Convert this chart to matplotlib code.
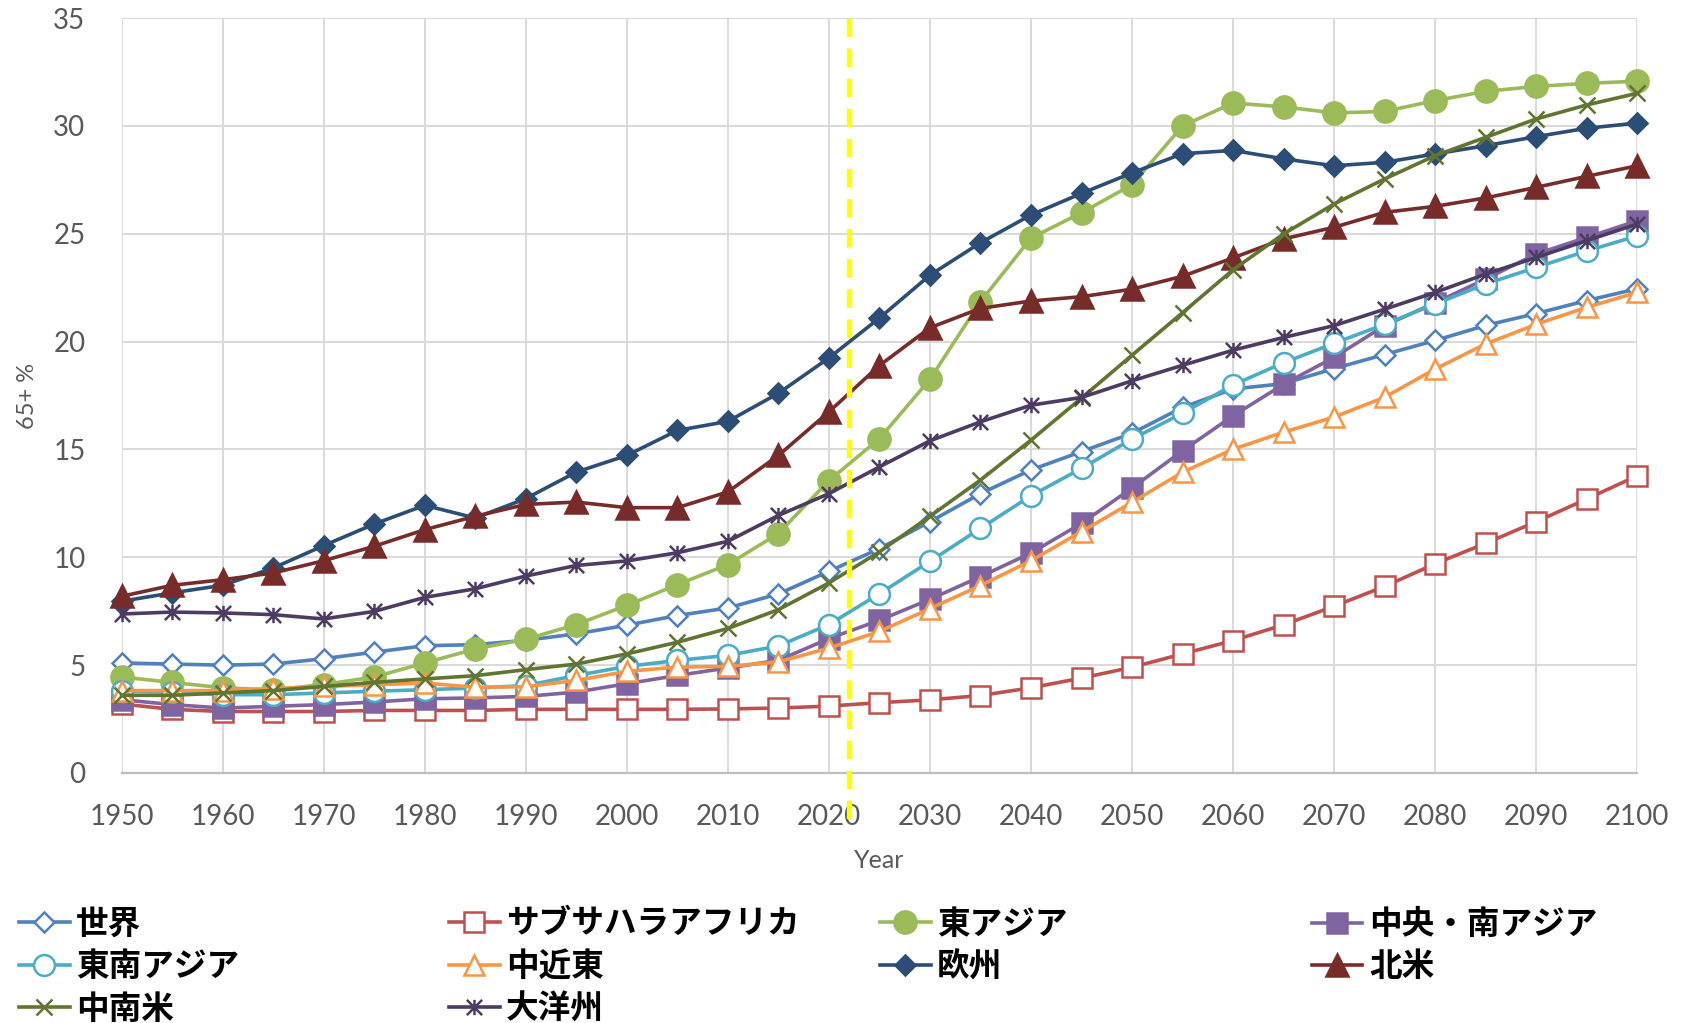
import matplotlib
matplotlib.use('Agg')
import matplotlib.pyplot as plt
from matplotlib.path import Path

plt.rcParams['font.family'] = ['Lato', 'Noto Sans CJK JP', 'DejaVu Sans']

years = list(range(1950, 2101, 5))

world = [5.1, 5.05, 5.0, 5.05, 5.3, 5.6, 5.9, 5.95, 6.15, 6.45, 6.85, 7.3, 7.65, 8.3, 9.35, 10.4,
         11.65, 12.95, 14.05, 14.9, 15.75, 16.95, 17.8, 18.05, 18.75, 19.4, 20.05, 20.75, 21.3, 21.9, 22.45]
ssa = [3.2, 2.95, 2.85, 2.85, 2.85, 2.9, 2.9, 2.9, 2.95, 2.95, 2.95, 2.95, 2.97, 3.01, 3.1, 3.26,
       3.39, 3.59, 3.95, 4.4, 4.9, 5.52, 6.14, 6.87, 7.73, 8.65, 9.7, 10.65, 11.65, 12.7, 13.78]
east_asia = [4.45, 4.2, 3.95, 3.85, 4.1, 4.45, 5.1, 5.75, 6.2, 6.88, 7.77, 8.73, 9.66, 11.1, 13.55, 15.5,
             18.25, 21.85, 24.8, 25.97, 27.27, 30.0, 31.06, 30.88, 30.6, 30.67, 31.17, 31.6, 31.83, 31.97, 32.07]
cs_asia = [3.4, 3.17, 3.01, 3.09, 3.17, 3.29, 3.44, 3.48, 3.55, 3.75, 4.14, 4.52, 4.87, 5.22, 6.23, 7.08,
           8.05, 9.1, 10.2, 11.57, 13.21, 14.94, 16.56, 18.02, 19.27, 20.74, 21.8, 22.9, 24.06, 24.83, 25.6]
se_asia = [3.79, 3.75, 3.63, 3.63, 3.71, 3.79, 3.86, 3.94, 4.05, 4.52, 4.94, 5.22, 5.45, 5.89, 6.88, 8.31,
           9.81, 11.34, 12.85, 14.12, 15.48, 16.68, 17.99, 19.02, 19.92, 20.8, 21.74, 22.67, 23.44, 24.2, 24.9]
mideast = [3.82, 3.82, 3.82, 3.91, 4.01, 4.09, 4.17, 3.97, 4.0, 4.29, 4.71, 4.91, 4.94, 5.15, 5.79, 6.56,
           7.62, 8.69, 9.84, 11.19, 12.55, 13.94, 15.01, 15.8, 16.5, 17.42, 18.73, 19.89, 20.8, 21.59, 22.28]
europe = [7.96, 8.35, 8.7, 9.5, 10.54, 11.54, 12.41, 11.82, 12.72, 13.95, 14.72, 15.88, 16.3, 17.6, 19.24, 21.09,
          23.08, 24.58, 25.87, 26.87, 27.82, 28.71, 28.86, 28.47, 28.15, 28.31, 28.7, 29.08, 29.5, 29.89, 30.13]
n_america = [8.19, 8.7, 8.96, 9.27, 9.84, 10.51, 11.28, 11.9, 12.45, 12.56, 12.3, 12.3, 13.03, 14.72, 16.74, 18.89,
             20.64, 21.54, 21.88, 22.08, 22.43, 23.03, 23.88, 24.76, 25.3, 25.99, 26.27, 26.66, 27.15, 27.66, 28.15]
latam = [3.6, 3.6, 3.71, 3.82, 4.01, 4.2, 4.36, 4.51, 4.79, 5.05, 5.52, 6.06, 6.7, 7.57, 8.81, 10.25,
         11.9, 13.58, 15.43, 17.38, 19.37, 21.34, 23.33, 24.99, 26.38, 27.54, 28.62, 29.47, 30.32, 30.97, 31.51]
oceania = [7.37, 7.46, 7.42, 7.34, 7.14, 7.49, 8.14, 8.54, 9.13, 9.62, 9.83, 10.21, 10.74, 11.94, 12.95, 14.19,
           15.4, 16.28, 17.05, 17.41, 18.18, 18.9, 19.6, 20.19, 20.74, 21.5, 22.28, 23.13, 23.9, 24.68, 25.45]

labels = ['世界', 'サブサハラアフリカ', '東アジア', '中央・南アジア', '東南アジア',
          '中近東', '欧州', '北米', '中南米', '大洋州']
current_year = 2022

# excel style star: x plus a vertical bar
star = Path([(-1, -1), (1, 1), (-1, 1), (1, -1), (0, -1), (0, 1)],
            [Path.MOVETO, Path.LINETO] * 3)

# (data, colour, marker, size, filled)
styles = [
    (world, '#4F81BD', 'D', 10, False),
    (ssa, '#C0504D', 's', 14, False),
    (east_asia, '#9BBB59', 'o', 16, True),
    (cs_asia, '#8064A2', 's', 15, True),
    (se_asia, '#4BACC6', 'o', 15, False),
    (mideast, '#F79646', '^', 15, False),
    (europe, '#2C4D75', 'D', 10.5, True),
    (n_america, '#772C2A', '^', 16, True),
    (latam, '#5F7530', 'x', 11, True),
    (oceania, '#4D3B62', star, 11, True),
]

fig = plt.figure(figsize=(16.86, 10.23), dpi=100)
ax = fig.add_axes([0.0721, 0.2444, 0.899, 0.738])

handles = []
for (vals, col, mk, ms, filled), lab in zip(styles, labels):
    h, = ax.plot(years, vals, color=col, lw=2.6, marker=mk, ms=ms,
                 mfc=col if filled else 'white', mec=col, mew=1.8,
                 label=lab, clip_on=False, zorder=3)
    handles.append(h)

ax.plot([current_year, current_year], [35, -2.2], color='#FFFF00', lw=3.8,
        dashes=(3.5, 2.2), clip_on=False, zorder=10)

ax.set_xlim(1950, 2100)
ax.set_ylim(0, 35)
ax.set_xticks(range(1950, 2101, 10))
ax.set_yticks(range(0, 36, 5))
ax.grid(True, color='#D9D9D9', lw=1.4, zorder=0)
ax.set_axisbelow(True)
for s in ['top', 'right', 'left']:
    ax.spines[s].set_visible(False)
ax.spines['bottom'].set_color('#BFBFBF')
ax.spines['bottom'].set_linewidth(1.6)
ax.tick_params(axis='both', length=0, labelsize=20, labelcolor='#595959')
ax.tick_params(axis='x', pad=22)
ax.tick_params(axis='y', pad=26)

ax.set_xlabel('Year', fontsize=18, color='#595959')
ax.xaxis.set_label_coords(0.5, -0.101)
ax.set_ylabel('65+ %', fontsize=17, color='#595959', va='center')
ax.yaxis.set_label_coords(-0.062, 0.5)

# four legend columns at fixed positions, like excel
cols = [[0, 4, 8], [1, 5, 9], [2, 6], [3, 7]]
xs = [0.0113, 0.2663, 0.5219, 0.7781]
for idx, x in zip(cols, xs):
    leg = fig.legend([handles[i] for i in idx], [labels[i] for i in idx],
                     loc='upper left', bbox_to_anchor=(x, 0.1125), frameon=False,
                     borderpad=0, borderaxespad=0, handlelength=1.55, handletextpad=0.2,
                     labelspacing=0.36, prop={'size': 23.5, 'weight': 'bold'})

fig.savefig('out.png', dpi=100)
